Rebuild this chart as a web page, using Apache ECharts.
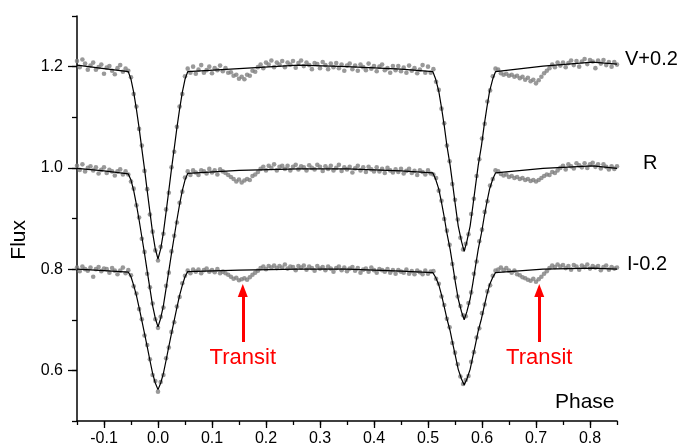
<!DOCTYPE html>
<html><head><meta charset="utf-8">
<script src="https://cdn.jsdelivr.net/npm/echarts@6/dist/echarts.min.js"></script>
<style>html,body{margin:0;padding:0;background:#fff}#c{width:680px;height:448px}</style>
</head><body><div id="c"></div>
<script>
// observed phases (thousandths)
const phaseMilli = [
-150,-145,-140,-135,-130,-125,-120,-115,-110,-105,-100,-95,-90,-85,-80,-75,-70,-65,-60,-55,
-50,-45,-40,-35,-30,-25,-20,-15,-10,-5,0,5,10,15,20,25,30,35,40,45,50,
55,60,65,70,75,80,85,90,95,100,105,110,115,120,125,130,135,140,145,150,
155,160,165,170,175,180,185,190,195,200,205,210,215,220,225,230,235,240,245,250,
255,260,265,270,275,280,285,290,295,300,305,310,315,320,325,330,335,340,345,350,
355,360,365,370,375,380,385,390,395,400,405,410,415,420,425,430,435,440,445,450,
455,460,465,470,475,480,485,490,495,500,505,
510,515,520,525,530,535,540,545,550,555,560,565,570,575,580,585,590,595,600,605,610,615,620,625,
630,635,640,645,650,655,660,665,670,675,680,685,690,695,700,705,710,715,720,725,
730,735,740,745,750,755,760,765,770,775,780,785,790,795,800,805,810,815,820,825,
830,835,840,845,850];
// observed fluxes (thousandths)
const fluxV = [
1211,1199,1214,1206,1194,1202,1208,1194,1199,1204,1186,1198,1201,1192,1185,1197,1203,1190,1196,1192,
1179,1146,1121,1077,1044,994,958,908,874,837,817,844,870,918,951,1001,1032,1081,1121,1146,1181,
1196,1188,1200,1186,1194,1203,1188,1193,1200,1187,1197,1193,1202,1191,1197,1188,1189,1182,1184,1176,
1180,1175,1184,1182,1192,1190,1199,1204,1197,1208,1204,1212,1199,1208,1204,1211,1199,1208,1204,1211,
1198,1207,1212,1201,1208,1203,1195,1207,1205,1197,1209,1203,1195,1206,1199,1207,1197,1204,1192,1202,
1206,1195,1202,1192,1204,1199,1193,1206,1196,1201,1191,1200,1204,1193,1197,1188,1201,1193,1201,1191,
1198,1188,1202,1192,1197,1187,1194,1203,1188,1200,1188,
1195,1170,1154,1117,1088,1044,1013,968,937,898,862,839,850,869,909,939,984,1017,1058,1087,1131,1153,1181,1196,
1194,1187,1184,1186,1182,1184,1180,1182,1177,1180,1174,1178,1171,1174,1167,1173,1180,1187,1192,1197,
1204,1199,1208,1202,1208,1199,1207,1212,1203,1211,1200,1210,1215,1205,1213,1210,1197,1212,1206,1213,
1203,1209,1200,1209,1204];
const fluxR = [
1004,996,1007,993,1000,1003,995,1001,989,996,1001,990,996,993,985,993,997,987,993,987,
973,959,926,902,860,834,791,764,732,701,684,706,724,767,793,835,866,892,931,953,981,
993,986,995,991,986,995,993,989,998,991,995,987,997,993,990,986,982,978,973,977,
971,975,978,976,984,987,992,998,1002,995,1004,1000,1007,995,1002,1004,998,1004,995,1002,
1006,997,1003,1001,995,1005,1000,997,1006,1002,994,1003,998,1004,995,1000,1006,994,1001,997,
1002,991,999,1004,995,1001,992,1002,997,993,1001,993,998,990,1000,995,991,997,992,998,
989,994,998,990,994,986,995,992,987,995,989,
987,980,955,935,899,876,848,810,783,746,727,709,707,733,754,791,815,855,878,913,934,965,978,995,
993,988,985,987,982,984,980,982,978,980,976,978,974,976,973,976,980,984,987,986,
992,990,995,1000,1004,997,1007,1003,999,1009,1005,1001,1009,1000,1007,1010,1002,1007,999,1007,
1002,997,1003,998,1003];
const fluxI = [
803,796,805,800,797,803,785,800,804,796,801,800,793,802,797,790,797,803,792,798,
788,766,752,721,701,669,650,622,591,579,558,577,591,624,645,676,695,726,745,772,787,
797,792,799,795,799,792,798,801,795,798,794,800,792,795,792,789,785,781,783,778,
780,782,779,784,789,793,797,802,805,800,806,803,807,802,806,803,809,801,805,804,
798,806,803,807,799,805,802,797,806,801,804,798,805,801,795,802,805,798,803,796,
801,804,797,802,793,799,801,795,803,798,793,800,798,795,800,793,798,791,798,795,
793,799,791,796,790,797,794,790,797,791,795,
796,781,771,746,729,702,685,654,635,612,588,573,581,589,617,636,665,683,713,730,756,768,787,797,
799,803,798,802,797,793,797,790,788,784,782,779,777,781,775,780,785,791,796,802,
807,804,809,805,808,802,806,799,808,805,799,807,804,809,801,806,803,806,798,804,
807,799,804,801,803];
// model light curves
const modelPhase = [-0.150,-0.100,-0.055,
-0.050,-0.045,-0.040,-0.035,-0.030,-0.025,-0.020,-0.015,-0.010,-0.005,0,0.005,0.010,0.015,0.020,0.025,0.030,0.035,0.040,0.045,0.050,
0.055,0.150,0.260,0.350,0.450,
0.509,0.514,0.520,0.525,0.530,0.535,0.541,0.546,0.551,0.556,0.562,0.567,0.572,0.578,0.583,0.588,0.593,0.599,0.604,0.609,0.614,0.620,0.625,
0.713,0.805,0.850];
const modelV = [1.203,1.196,1.190,
1.175,1.149,1.116,1.079,1.038,0.998,0.955,0.913,0.872,0.840,0.820,0.840,0.872,0.913,0.955,0.998,1.038,1.079,1.116,1.149,1.175,
1.190,1.196,1.203,1.200,1.195,
1.190,1.176,1.151,1.119,1.084,1.044,1.005,0.965,0.924,0.885,0.855,0.835,0.855,0.885,0.924,0.965,1.005,1.044,1.084,1.119,1.151,1.176,1.190,
1.201,1.209,1.205];
const modelR = [0.999,0.994,0.988,
0.976,0.955,0.928,0.897,0.864,0.831,0.796,0.762,0.728,0.703,0.686,0.703,0.728,0.762,0.796,0.831,0.864,0.897,0.928,0.955,0.976,
0.989,0.995,0.998,0.998,0.994,
0.990,0.978,0.958,0.932,0.903,0.871,0.839,0.806,0.772,0.741,0.716,0.700,0.716,0.741,0.772,0.806,0.839,0.871,0.903,0.932,0.958,0.978,0.990,
0.999,1.004,0.999];
const modelI = [0.800,0.797,0.794,
0.785,0.768,0.748,0.724,0.699,0.673,0.647,0.620,0.594,0.575,0.562,0.575,0.594,0.620,0.647,0.673,0.699,0.724,0.748,0.768,0.785,
0.795,0.798,0.800,0.800,0.796,
0.793,0.784,0.769,0.749,0.726,0.702,0.678,0.652,0.627,0.602,0.583,0.571,0.583,0.602,0.627,0.652,0.678,0.702,0.726,0.749,0.769,0.784,0.793,
0.800,0.802,0.800];
const curveNames = ['V+0.2','R','I-0.2'];
const xTickValues = [-0.1,0,0.1,0.2,0.3,0.4,0.5,0.6,0.7,0.8];
const yTickValues = [0.6,0.8,1.0,1.2];
const transitPhase = [0.157,0.706];
const transitArrowFlux = [0.656,0.758];

const FONT = '"Liberation Sans", Arial, sans-serif';
const pts = arr => phaseMilli.map((p,i)=>[p/1000, arr[i]/1000]);
const line = arr => modelPhase.map((p,i)=>[p, arr[i]]);

const chart = echarts.init(document.getElementById('c'), null, {renderer:'canvas'});
const scatterSeries = [fluxV,fluxR,fluxI].map(a=>({
  type:'scatter', data:pts(a), symbol:'circle', symbolSize:4.6,
  itemStyle:{color:'#808080'}, z:2, silent:true
}));
const endDist = [8,26,10];
const lineSeries = [modelV,modelR,modelI].map((a,k)=>({
  type:'line', name:curveNames[k], data:line(a), showSymbol:false, symbol:'none',
  lineStyle:{color:'#000',width:1.2}, z:3, silent:true,
  endLabel:{show:true, formatter:curveNames[k], color:'#000', fontSize:20, fontFamily:FONT,
    distance:endDist[k], offset:[0,-5]}
}));
lineSeries[2].markLine = {
  silent:true, animation:false, symbol:['none','triangle'], symbolSize:[10,13],
  lineStyle:{color:'#ff0000', width:3, type:'solid'},
  label:{show:true, position:'start', formatter:'Transit', color:'#ff0000', fontSize:22, fontFamily:FONT, distance:5},
  data: transitPhase.map(p=>[{coord:[p,transitArrowFlux[0]]},{coord:[p,transitArrowFlux[1]]}])
};

const axisBlack = {lineStyle:{color:'#000',width:1.5}};
chart.setOption({
  animation:false,
  grid:{left:77,right:63,top:16,bottom:27,containLabel:false},
  xAxis:[
    {type:'value',min:-0.15,max:0.85,interval:0.05,position:'bottom',
     axisLine:{show:true,onZero:false,...axisBlack},
     axisTick:{show:true,length:4,lineStyle:{color:'#000',width:1.3}},
     axisLabel:{show:false},splitLine:{show:false}},
    {type:'value',min:-0.15,max:0.85,position:'bottom',
     axisLine:{show:false,onZero:false},
     axisTick:{show:true,length:7,customValues:xTickValues,lineStyle:{color:'#000',width:1.3}},
     axisLabel:{show:true,customValues:xTickValues,margin:10,fontSize:16,color:'#000',fontFamily:FONT,
       formatter:v=>v.toFixed(1)},
     splitLine:{show:false}}
  ],
  yAxis:[
    {type:'value',min:0.5,max:1.3,interval:0.1,position:'left',
     axisLine:{show:true,onZero:false,...axisBlack},
     axisTick:{show:true,length:5,lineStyle:{color:'#000',width:1.3}},
     axisLabel:{show:false},splitLine:{show:false}},
    {type:'value',min:0.5,max:1.3,position:'left',
     axisLine:{show:false,onZero:false},
     axisTick:{show:true,length:9,customValues:yTickValues,lineStyle:{color:'#000',width:1.3}},
     axisLabel:{show:true,customValues:yTickValues,margin:14,fontSize:16,color:'#000',fontFamily:FONT,
       formatter:v=>v.toFixed(1)},
     splitLine:{show:false}}
  ],
  graphic:[
    {type:'text',left:9,top:220,rotation:Math.PI/2,style:{text:'Flux',fontSize:21,fontFamily:FONT,fill:'#000'}},
    {type:'text',left:555,top:392,style:{text:'Phase',fontSize:21,fontFamily:FONT,fill:'#000'}}
  ],
  series:[...scatterSeries, ...lineSeries]
});
</script></body></html>
